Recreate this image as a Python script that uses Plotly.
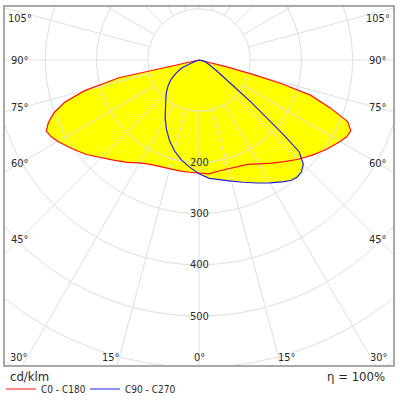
import numpy as np
import plotly.graph_objects as go

# luminous intensity in cd/klm, gamma in degrees from nadir
# (negative gamma = left half of the plane)
c0_gamma = [-78, -77.5, -75, -72.5, -70, -67.5, -65, -62.5, -60, -55, -50, -45, -40,
            -35, -30, -25, -20, -15, -10, -5, 0, 5, 10, 15, 20, 25, 30, 35, 40, 45,
            50, 55, 60, 62.5, 65, 67.5, 70, 72.5, 74, 75, 76, 77]
c0_cd = [0, 160, 231, 275, 301, 318, 329, 325, 318, 302, 287, 270, 256,
         244, 232, 225, 222, 220, 220, 220, 221, 223, 220, 220, 221, 225, 234, 246, 259, 274,
         289, 304, 318, 325, 327, 314, 272, 228, 168, 112, 56, 0]

c90_gamma = [-80, -75, -70, -67.5, -65, -60, -55, -50, -45, -40, -35, -30, -25, -20,
             -15, -10, -5, 0, 5, 10, 15, 20, 25, 30, 35, 37.5, 40, 42.5, 45, 47.5,
             48.5, 49.5, 51, 53, 56, 59, 65, 70, 75, 80, 90]
c90_cd = [0, 2, 8, 20, 38, 52, 67, 79, 90, 101, 115, 132, 150, 168,
          184, 198, 210, 222, 232, 238, 245, 254, 265, 277, 290, 296, 298, 296, 288, 265,
          222, 174, 130, 82, 55, 38, 23, 17, 12, 6, 0]

grid_radii = [100, 200, 300, 400, 500, 600, 700]
radius_labels = [200, 300, 400, 500]
spoke_angles = list(range(0, 360, 15))
side_label_angles = [105, 90, 75, 60, 45]
bottom_label_angles = [30, 15, 0]

PX = 0.515  # pixels per cd/klm
X_MAX = 195 / PX
Y_TOP = 53.3 / PX
Y_BOT = -306.7 / PX

FONT = "DejaVu Sans Condensed, DejaVu Sans, sans-serif"
TXT = "#2a2a2a"
GRID = "#dedede"


def to_xy(gamma, r):
    g = np.radians(np.asarray(gamma, dtype=float))
    r = np.asarray(r, dtype=float)
    return r * np.sin(g), -r * np.cos(g)


fig = go.Figure()

# yellow area under both curves
for g, r in [(c0_gamma, c0_cd), (c90_gamma, c90_cd)]:
    x, y = to_xy(g, r)
    fig.add_trace(go.Scatter(x=x, y=y, mode="lines", fill="toself",
                             fillcolor="#FFFF00", line=dict(width=0),
                             hoverinfo="skip", showlegend=False))

# grid circles
t = np.linspace(0, 360, 361)
for rr in grid_radii:
    x, y = to_xy(t, np.full(t.shape, rr))
    fig.add_trace(go.Scatter(x=x, y=y, mode="lines", line=dict(color=GRID, width=1),
                             hoverinfo="skip", showlegend=False))

# spokes, starting at the first circle
for a in spoke_angles:
    x, y = to_xy([a, a], [grid_radii[0], 900])
    fig.add_trace(go.Scatter(x=x, y=y, mode="lines", line=dict(color=GRID, width=1),
                             hoverinfo="skip", showlegend=False))

# the curves (one legend each so the two entries sit close together)
x, y = to_xy(c0_gamma, c0_cd)
fig.add_trace(go.Scatter(x=np.append(x, x[0]), y=np.append(y, y[0]), mode="lines",
                         name="C0 - C180", line=dict(color="#FF1010", width=1.2),
                         legend="legend"))
x, y = to_xy(c90_gamma, c90_cd)
fig.add_trace(go.Scatter(x=np.append(x, x[0]), y=np.append(y, y[0]), mode="lines",
                         name="C90 - C270", line=dict(color="#2020E0", width=1.2),
                         legend="legend2"))

# radius labels
for rr in radius_labels:
    fig.add_annotation(x=0, y=-rr, text=str(rr), showarrow=False,
                       font=dict(size=11, color=TXT, family=FONT))

# angle labels on the sides
xs = 180 / PX
for a in side_label_angles:
    yy = -xs * np.cos(np.radians(a)) / np.sin(np.radians(a))
    yy = min(yy, Y_TOP - 11.5 / PX)
    for sgn in (-1, 1):
        fig.add_annotation(x=sgn * xs, y=yy, text=f"{a}°", showarrow=False,
                           font=dict(size=11, color=TXT, family=FONT))

# angle labels along the bottom
yb = -(357 - 58.3) / PX
for a in bottom_label_angles:
    xb = -yb * np.tan(np.radians(a)) + (8 / PX if a else 0)
    for sgn in ((-1, 1) if a else (1,)):
        fig.add_annotation(x=sgn * xb, y=yb, text=f"{a}°", showarrow=False,
                           font=dict(size=11, color=TXT, family=FONT))

fig.add_annotation(xref="paper", yref="paper", x=0.008, y=-0.033,
                   xanchor="left", yanchor="middle", text="cd/klm", showarrow=False,
                   font=dict(size=13, color=TXT, family=FONT))
fig.add_annotation(xref="paper", yref="paper", x=0.985, y=-0.033,
                   xanchor="right", yanchor="middle", text="η = 100%", showarrow=False,
                   font=dict(size=13, color=TXT, family=FONT))

axis = dict(showgrid=False, zeroline=False, showticklabels=False, ticks="",
            showline=True, mirror=True, linecolor="#a8a8a8", linewidth=1.5,
            fixedrange=True)
fig.update_xaxes(range=[-X_MAX, X_MAX], **axis)
fig.update_yaxes(range=[Y_BOT, Y_TOP], **axis)

leg = dict(orientation="h", xanchor="left", xref="container",
           yref="container", y=1 - 389 / 400, yanchor="middle",
           font=dict(size=10, color=TXT, family=FONT),
           itemwidth=30, bgcolor="rgba(0,0,0,0)")

fig.update_layout(
    width=400, height=400,
    margin=dict(l=5, r=5, t=5, b=35),
    plot_bgcolor="white", paper_bgcolor="white",
    showlegend=True,
    legend=dict(leg, x=1 / 400),
    legend2=dict(leg, x=85 / 400),
)

# the page body has a default 8px margin; drop it so the figure sits at 0,0
fig.write_html("out.html", config={"displayModeBar": False},
               post_script="document.body.style.margin='0px';")
